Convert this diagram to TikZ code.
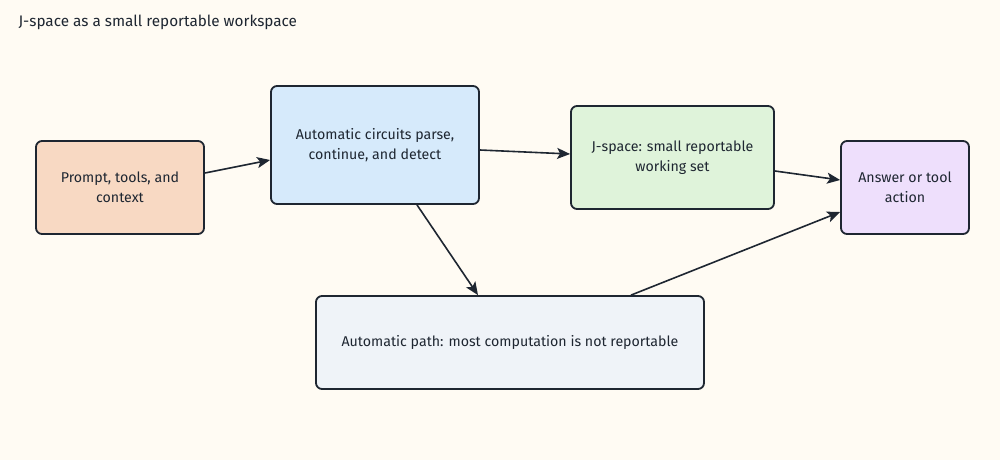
\documentclass[tikz,border=0pt]{standalone}
\usepackage{fontspec}
\setmainfont{Fira Sans}
\usetikzlibrary{arrows.meta}
\definecolor{bg}{HTML}{FFFBF3}
\definecolor{edge}{HTML}{1E2631}
\definecolor{fprompt}{HTML}{F8D9C3}
\definecolor{fcirc}{HTML}{D6EAFB}
\definecolor{fjs}{HTML}{DFF3DA}
\definecolor{fans}{HTML}{EEDFFC}
\definecolor{fpath}{HTML}{EFF3F8}
\tikzset{
  box/.style={draw=edge, line width=1.8pt, rounded corners=6pt, align=center,
    inner sep=0pt, text=edge, font=\fontsize{14.2}{20.5}\selectfont},
  conn/.style={draw=edge, line width=1.6pt, -{Stealth[length=13pt,width=11pt,inset=3pt]}},
}
\begin{document}
\begin{tikzpicture}[x=1pt,y=-1pt]
\useasboundingbox[fill=bg] (0,0) rectangle (1000,460);
\node[anchor=west, text=edge, font=\fontsize{15.3}{18}\selectfont] (title) at (15,22) {J-space as a small reportable workspace};
\node[box, fill=fprompt, minimum width=168pt, minimum height=93pt] (prompt) at (120,187.5) {Prompt, tools, and\\context};
\node[box, fill=fcirc, minimum width=208pt, minimum height=118pt] (circ) at (375,145) {Automatic circuits parse,\\continue, and detect};
\node[box, fill=fjs, minimum width=203pt, minimum height=103pt] (js) at (672.5,157.5) {J-space: small reportable\\working set};
\node[box, fill=fans, minimum width=128pt, minimum height=93pt] (ans) at (905,187.5) {Answer or tool\\action};
\node[box, fill=fpath, minimum width=388pt, minimum height=93pt] (path) at (510,342.5) {Automatic path: most computation is not reportable};
\draw[conn] ([yshift=14.5pt]prompt.east) -- ([yshift=-15pt]circ.west);
\draw[conn] ([yshift=-5pt]circ.east) -- ([yshift=3.5pt]js.west);
\draw[conn] ([yshift=-13.5pt]js.east) -- ([yshift=7.5pt]ans.west);
\draw[conn] ([xshift=42pt]circ.south) -- ([xshift=-32pt]path.north);
\draw[conn] ([xshift=121pt]path.north) -- ([yshift=-24.5pt]ans.west);
\end{tikzpicture}
\end{document}
